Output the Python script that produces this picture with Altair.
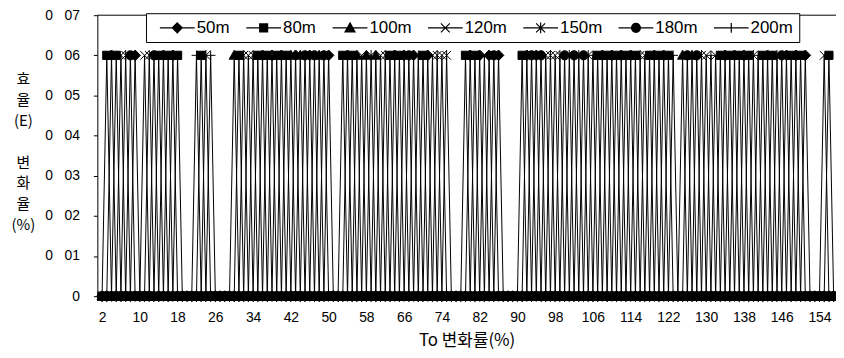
import math
import altair as alt
import pandas as pd

# ---------------- data ----------------
categories = list(range(2, 158))
series_names = ["50m", "80m", "100m", "120m", "150m", "180m", "200m"]
peak_value = 0.06

spikes_50m = [4, 9, 15, 17, 36, 38, 40, 43, 46, 50, 54, 64, 66, 68, 71, 80, 82, 84, 86, 92, 94,
              108, 110, 112, 114, 119, 121, 134, 136, 138, 143, 147, 149, 151]
spikes_80m = [3, 5, 14, 16, 18, 23, 31, 35, 37, 39, 41, 53, 55, 63, 65, 70, 79, 81, 91, 107, 109,
              111, 113, 115, 118, 120, 122, 133, 135, 137, 139, 142, 144, 148, 150, 156]
spikes_100m = [30, 42, 44, 48, 56, 58, 60, 125, 127]
spikes_120m = [6, 11, 33, 57, 61, 72, 74, 83, 96, 98, 117, 130, 132, 155]
spikes_150m = [7, 12, 24, 32, 34, 59, 62, 73, 75, 97, 99, 101, 103, 105, 116, 129, 140, 145]
spikes_180m = [8, 13, 45, 47, 49, 67, 85, 93, 95, 100, 102, 104, 126, 128, 146]
spikes_200m = [22, 25, 69, 106, 123, 131, 141]

x_tick_values = list(range(2, 155, 8))
y_tick_values = [0, 0.01, 0.02, 0.03, 0.04, 0.05, 0.06, 0.07]

spike_lists = [spikes_50m, spikes_80m, spikes_100m, spikes_120m,
               spikes_150m, spikes_180m, spikes_200m]

rows = []
for name, hits in zip(series_names, spike_lists):
    hs = set(hits)
    for c in categories:
        rows.append({"x": c, "v": peak_value if c in hs else 0.0, "series": name})
df = pd.DataFrame(rows)
top_df = pd.DataFrame({"top": [0.07]})

# ---------------- marker shapes ----------------
marker_paths = [
    "M0,-1.1L1.1,0L0,1.1L-1.1,0Z",                       # diamond
    "M-0.85,-0.85H0.85V0.85H-0.85Z",                     # square
    "M0,-1.05L1.05,0.8H-1.05Z",                           # triangle
    "M-0.9,-0.9L0.9,0.9M-0.9,0.9L0.9,-0.9",              # x
    "M-0.9,-0.9L0.9,0.9M-0.9,0.9L0.9,-0.9M0,-1.1L0,1.1", # asterisk
    "M-0.95,0A0.95,0.95 0 1,0 0.95,0A0.95,0.95 0 1,0 -0.95,0Z",  # circle
    "M0,-1L0,1M-1,0L1,0",                                 # plus
]


def hatch(y0, y1, half_width, outline):
    """Solid-looking shape made of stroked horizontal lines (legend symbols are stroked only)."""
    parts = [outline]
    n = int(round((y1 - y0) / 0.18))
    for i in range(n + 1):
        y = y0 + (y1 - y0) * i / n
        w = max(half_width(y), 0.02)
        parts.append(f"M{-w:.3f},{y:.3f}L{w:.3f},{y:.3f}")
    return "".join(parts)


line_seg = "M-3.5,0L3.5,0"
legend_paths = [
    line_seg + hatch(-0.9, 0.9, lambda y: 1 - abs(y) - 0.1, "M0,-1L1,0L0,1L-1,0Z"),
    line_seg + hatch(-0.75, 0.75, lambda y: 0.75, "M-0.8,-0.8H0.8V0.8H-0.8Z"),
    line_seg + hatch(-0.85, 0.75, lambda y: (y + 1) / 1.8 * 0.95, "M0,-1L1,0.8H-1Z"),
    line_seg + "M-0.9,-0.9L0.9,0.9M-0.9,0.9L0.9,-0.9",
    line_seg + "M-0.9,-0.9L0.9,0.9M-0.9,0.9L0.9,-0.9M0,-1.1L0,1.1",
    line_seg + hatch(-0.8, 0.8, lambda y: math.sqrt(max(0.81 - y * y, 0)) - 0.05,
                     "M-0.9,0A0.9,0.9 0 1,0 0.9,0A0.9,0.9 0 1,0 -0.9,0Z"),
    line_seg + "M0,-1L0,1",
]

LAT = "Liberation Sans"
KR = "Noto Sans CJK KR"

x_enc = alt.X(
    "x:Q",
    scale=alt.Scale(domain=[1, 157.5], nice=False, zero=False),
    axis=alt.Axis(
        values=x_tick_values, format="d", grid=False, ticks=False,
        labelPadding=15, labelFontSize=14, labelFont=LAT, labelColor="black",
        domainColor="black",
        title="To 변화률(%)", titleFont=KR, titleFontSize=17, titleFontWeight="normal",
        titleColor="black", titleX=372, titleY=45, titleBaseline="middle", titleAlign="center",
    ),
)
y_enc = alt.Y(
    "v:Q",
    scale=alt.Scale(domain=[0, 0.07], nice=False),
    axis=alt.Axis(
        values=y_tick_values, grid=False, tickSize=4, tickColor="black",
        labelExpr="datum.value == 0 ? '0' : replace(format(datum.value, '.2f'), '.', '\u00a0\u00a0\u00a0')",
        labelPadding=14, labelFontSize=14, labelFont=LAT, labelColor="black",
        domainColor="black",
        title=["효", "율", "(E)", "\u2800", "변", "화", "율", "(%)"],
        titleAngle=0, titleX=-75, titleY=64, titleAlign="center", titleBaseline="middle",
        titleLineHeight=21, titleFont=KR, titleFontSize=15, titleFontWeight="normal",
        titleColor="black",
    ),
)

lines = alt.Chart(df).mark_line(color="black", strokeWidth=1).encode(
    x=x_enc, y=y_enc, detail="series:N"
)

points = alt.Chart(df).mark_point(
    filled=True, fill="black", stroke="black", strokeWidth=1, size=95, opacity=1
).encode(
    x=x_enc, y=y_enc,
    shape=alt.Shape("series:N", scale=alt.Scale(domain=series_names, range=marker_paths), legend=None),
)

legend_layer = alt.Chart(df).transform_filter("datum.v > 1").mark_point(
    filled=False, stroke="black", strokeWidth=1.2, size=100, opacity=1
).encode(
    x=x_enc, y=y_enc,
    shape=alt.Shape(
        "series:N",
        scale=alt.Scale(domain=series_names, range=legend_paths),
        legend=alt.Legend(
            orient="none", legendX=49, legendY=-2, direction="horizontal", columns=7,
            title=None, strokeColor="black", fillColor="white", padding=6,
            labelFont=LAT, labelFontSize=17, labelColor="black",
            symbolSize=100, symbolStrokeWidth=1.2, symbolStrokeColor="black",
            symbolOpacity=1,
            symbolOffset=17, labelOffset=11, columnPadding=8,
        ),
    ),
)

top_rule = alt.Chart(top_df).mark_rule(color="black", strokeWidth=1).encode(y="top:Q")

chart = alt.layer(lines, points, legend_layer, top_rule).resolve_scale(
    shape="independent"
).properties(
    width=744, height=283,
    autosize=alt.AutoSizeParams(type="none"),
    padding={"left": 90, "top": 6, "right": 0, "bottom": 56},
).configure_view(stroke=None)

chart.save("out.html", embed_options={"renderer": "svg", "actions": False})
